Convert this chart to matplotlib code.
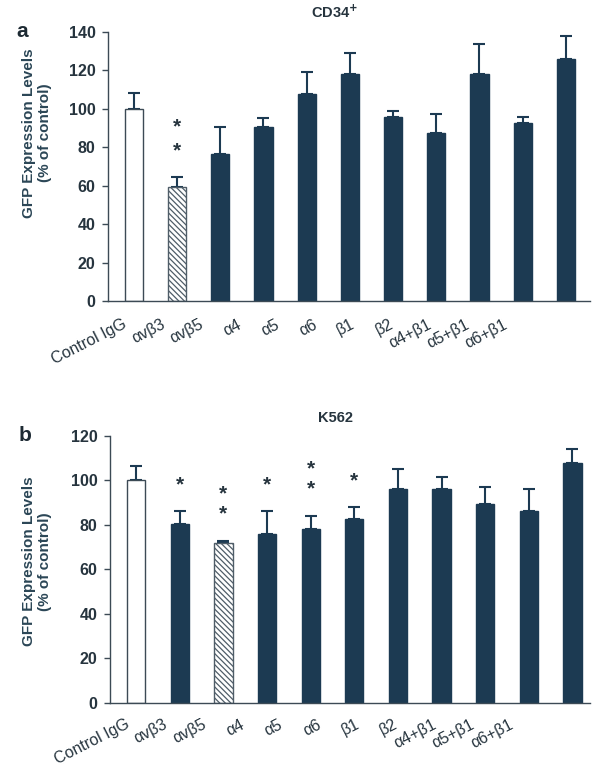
import numpy as np
import matplotlib.pyplot as plt

plt.rcParams['font.family'] = ['Liberation Sans', 'DejaVu Sans']
plt.rcParams['hatch.linewidth'] = 0.9

# antibody treatments on the x axis
labels = ['Control IgG', 'αvβ3', 'αvβ5', 'α4', 'α5', 'α6',
          'β1', 'β2', 'α4+β1', 'α5+β1', 'α6+β1']

# CD34+ cells (panel a)
cd34_mean = [100, 59.5, 76.5, 90.5, 107.5, 118, 96, 87.5, 118, 92.5, 126]
cd34_err = [8, 5, 14, 4.5, 11.5, 11, 3, 10, 15.5, 3.5, 12]
cd34_stars = [0, 2, 0, 0, 0, 0, 0, 0, 0, 0, 0]

# K562 cells (panel b)
k562_mean = [100, 80.5, 72, 76, 78, 82.5, 96, 96, 89.5, 86, 107.5]
k562_err = [6.5, 5.5, 0.8, 10, 6, 5.5, 9, 5.5, 7.5, 10, 6.5]
k562_stars = [0, 1, 2, 1, 2, 1, 0, 0, 0, 0, 0]

navy = '#1c3a52'
text_col = '#26343e'


def draw_panel(ax, means, errs, stars, hatched, ymax, title, letter,
               lab_dy, xr, ylab_pos, star_gap):
    x = np.arange(len(means))
    face = [navy] * len(means)
    face[0] = 'white'
    face[hatched] = 'white'
    bars = ax.bar(x, means, width=0.42, color=face, edgecolor=navy,
                  linewidth=1.0, zorder=2)
    bars[hatched].set_hatch('\\\\\\\\\\\\')
    bars[hatched].set_edgecolor('#4f5d68')
    bars[0].set_edgecolor('#3c4a55')

    ax.errorbar(x, means, yerr=[np.zeros(len(errs)), errs], fmt='none',
                ecolor=navy, elinewidth=1.5, capsize=4.5, capthick=1.5, zorder=1)

    # significance asterisks above the error bars
    for xi, m, e, n in zip(x, means, errs, stars):
        for k in range(n):
            ax.annotate('*', xy=(xi, m + e), xytext=(0, 19 + star_gap * k),
                        textcoords='offset points', ha='center', va='center',
                        fontsize=15, fontweight='bold', color=text_col)

    ax.set_xlim(-0.6, xr)
    ax.set_ylim(0, ymax)
    ax.set_yticks(np.arange(0, ymax + 1, 20))
    ax.set_xticks([])
    for s in ['top', 'right']:
        ax.spines[s].set_visible(False)
    for s in ['left', 'bottom']:
        ax.spines[s].set_color('#3c4a55')
        ax.spines[s].set_linewidth(1.0)
    ax.tick_params(axis='y', length=4, width=1.0, color='#3c4a55',
                   labelsize=11.5, labelcolor=text_col, pad=5)
    for t in ax.get_yticklabels():
        t.set_fontweight('bold')

    ax.set_ylabel('GFP Expression Levels\n(% of control)', fontsize=11,
                  fontweight='bold', color='#2b4656', linespacing=1.25)
    ax.yaxis.set_label_coords(*ylab_pos)

    # slanted category names under the axis
    for i, lab in enumerate(labels):
        ax.annotate(lab, xy=(0.88 * i - 0.26, 0), xycoords=ax.get_xaxis_transform(),
                    xytext=(0, lab_dy), textcoords='offset points',
                    ha='right', va='top', rotation=27, rotation_mode='anchor',
                    fontsize=11.5, color=text_col)

    ax.set_title(title, fontsize=10.5, fontweight='bold', color=text_col,
                 x=0.47, pad=10)
    ax.text(-0.19, 1.0, letter, transform=ax.transAxes, fontsize=15,
            fontweight='bold', color='#1d2a33', ha='left', va='center')


fig = plt.figure(figsize=(5.93, 7.75), dpi=100)
ax_a = fig.add_axes([0.182, 0.611, 0.813, 0.348])
ax_b = fig.add_axes([0.1855, 0.093, 0.81, 0.345])

draw_panel(ax_a, cd34_mean, cd34_err, cd34_stars, 1, 140,
           'CD34$^{\\mathbf{+}}$', 'a', -11, 10.56, (-0.115, 0.625), 17)
draw_panel(ax_b, k562_mean, k562_err, k562_stars, 2, 120,
           'K562', 'b', -10, 10.41, (-0.12, 0.53), 15)

fig.savefig('out.png', dpi=100)
